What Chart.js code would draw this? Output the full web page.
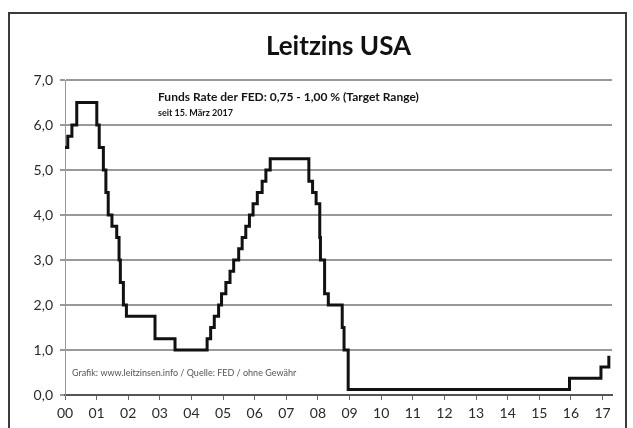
<!DOCTYPE html>
<html>
<head>
<meta charset="utf-8">
<script src="https://cdn.jsdelivr.net/npm/chart.js@4.4.1/dist/chart.umd.min.js"></script>
<style>
  html, body { margin: 0; padding: 0; background: #fff; overflow: hidden; }
  #wrap { position: relative; width: 633px; height: 428px; }
  #frame { position: absolute; left: 8px; top: 12px; width: 615px; height: 500px; border: 2px solid #3a3a3a; }
  canvas { position: absolute; left: 0; top: 0; }
</style>
</head>
<body>
<div id="wrap">
  <div id="frame"></div>
  <canvas id="rateChart" width="633" height="428"></canvas>
</div>
<script>
// Leitzins USA - Fed funds target rate (changes), 2000 - 2017
const changeDates = ['2000-01-01', '2000-02-02', '2000-03-21', '2000-05-16',
  '2001-01-03', '2001-01-31', '2001-03-20', '2001-04-18', '2001-05-15', '2001-06-27',
  '2001-08-21', '2001-09-17', '2001-10-02', '2001-11-06', '2001-12-11',
  '2002-11-06', '2003-06-25',
  '2004-06-30', '2004-08-10', '2004-09-21', '2004-11-10', '2004-12-14',
  '2005-02-02', '2005-03-22', '2005-05-03', '2005-06-30', '2005-08-09',
  '2005-09-20', '2005-11-01', '2005-12-13',
  '2006-01-31', '2006-03-28', '2006-05-10', '2006-06-29',
  '2007-09-18', '2007-10-31', '2007-12-11',
  '2008-01-22', '2008-01-30', '2008-03-18', '2008-04-30', '2008-10-08', '2008-10-29', '2008-12-16',
  '2015-12-16', '2016-12-14', '2017-03-15'];
const rates = [5.5, 5.75, 6.0, 6.5,
  6.0, 5.5, 5.0, 4.5, 4.0, 3.75,
  3.5, 3.0, 2.5, 2.0, 1.75,
  1.25, 1.0,
  1.25, 1.5, 1.75, 2.0, 2.25,
  2.5, 2.75, 3.0, 3.25, 3.5,
  3.75, 4.0, 4.25,
  4.5, 4.75, 5.0, 5.25,
  4.75, 4.5, 4.25,
  3.5, 3.0, 2.25, 2.0, 1.5, 1.0, 0.125,
  0.375, 0.625, 0.875];
const yearLabels = ['00', '01', '02', '03', '04', '05', '06', '07', '08', '09',
  '10', '11', '12', '13', '14', '15', '16', '17'];
const rateTicks = ['0,0', '1,0', '2,0', '3,0', '4,0', '5,0', '6,0', '7,0'];

const titleText = 'Leitzins USA';
const noteText = 'Funds Rate der FED: 0,75 - 1,00 % (Target Range)';
const noteSubText = 'seit 15. März 2017';
const sourceText = 'Grafik: www.leitzinsen.info / Quelle: FED / ohne Gewähr';

// date string -> years since 2000 (decimal)
function toYears(s) {
  const d = new Date(s + 'T00:00:00Z');
  const y = d.getUTCFullYear();
  const start = Date.UTC(y, 0, 1);
  const len = Date.UTC(y + 1, 0, 1) - start;
  return (y - 2000) + (d.getTime() - start) / len;
}

const points = changeDates.map((d, i) => ({ x: toYears(d), y: rates[i] }));

const font = 'Lato, "Open Sans", sans-serif';

// title over the plot area + extra texts inside the plot
const texts = {
  id: 'texts',
  afterDraw(chart) {
    const c = chart.ctx;
    const area = chart.chartArea;
    c.save();
    c.textBaseline = 'middle';
    c.textAlign = 'center';
    c.fillStyle = '#111';
    c.font = 'bold 26px ' + font;
    c.fillText(titleText, (area.left + area.right) / 2, 47);
    c.textAlign = 'left';
    c.fillStyle = '#151515';
    c.font = 'bold 12px ' + font;
    c.fillText(noteText, 158, 97);
    c.font = 'bold 9px ' + font;
    c.fillText(noteSubText, 158, 113);
    c.fillStyle = '#555';
    c.font = '9px ' + font;
    c.fillText(sourceText, 72, 373);
    c.restore();
  }
};

const ctx = document.getElementById('rateChart').getContext('2d');
const rateChart = new Chart(ctx, {
  type: 'line',
  data: {
    datasets: [{
      label: 'Leitzins',
      data: points,
      stepped: 'before',
      borderColor: '#111',
      borderWidth: 3,
      pointRadius: 0,
      fill: false
    }]
  },
  options: {
    responsive: false,
    animation: false,
    layout: { padding: { left: 0, right: 21, top: 80, bottom: 0 } },
    plugins: {
      legend: { display: false },
      tooltip: { enabled: false },
      title: { display: false }
    },
    scales: {
      x: {
        type: 'linear',
        min: 0,
        max: 17.3,
        afterFit(scale) { scale.height = 33; },
        ticks: {
          stepSize: 1,
          includeBounds: false,
          autoSkip: false,
          maxRotation: 0,
          padding: 5,
          color: '#2a2a2a',
          font: { family: font, size: 14 },
          callback: (v) => yearLabels[v]
        },
        grid: { drawOnChartArea: false, drawTicks: true, tickLength: 5, color: '#666', lineWidth: 1 },
        border: { display: true, color: '#555', width: 2 }
      },
      y: {
        min: 0,
        max: 7,
        afterFit(scale) { scale.width = 65; },
        ticks: {
          stepSize: 1,
          padding: 7,
          color: '#2a2a2a',
          font: { family: font, size: 14 },
          callback: (v) => rateTicks[v]
        },
        grid: { color: '#999', lineWidth: 2, drawTicks: true, tickLength: 5 },
        border: { display: true, color: '#999', width: 1 }
      }
    }
  },
  plugins: [texts]
});
</script>
</body>
</html>
